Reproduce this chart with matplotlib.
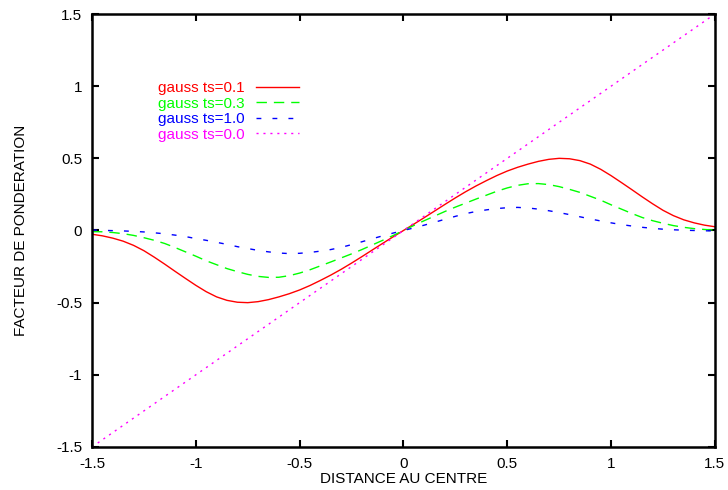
import matplotlib
matplotlib.use('Agg')
import matplotlib.pyplot as plt
import matplotlib.ticker as mticker

plt.rcParams['font.family'] = ['Liberation Sans', 'DejaVu Sans']
plt.rcParams['axes.unicode_minus'] = False

# distances, every 0.05
X = [-1.5, -1.45, -1.4, -1.35, -1.3, -1.25, -1.2, -1.15, -1.1, -1.05,
     -1.0, -0.95, -0.9, -0.85, -0.8, -0.75, -0.7, -0.65, -0.6, -0.55,
     -0.5, -0.45, -0.4, -0.35, -0.3, -0.25, -0.2, -0.15, -0.1, -0.05,
     0.0, 0.05, 0.1, 0.15, 0.2, 0.25, 0.3, 0.35, 0.4, 0.45,
     0.5, 0.55, 0.6, 0.65, 0.7, 0.75, 0.8, 0.85, 0.9, 0.95,
     1.0, 1.05, 1.1, 1.15, 1.2, 1.25, 1.3, 1.35, 1.4, 1.45, 1.5]

TS01 = [-0.026, -0.037, -0.053, -0.074, -0.103, -0.14, -0.185, -0.233,
        -0.283, -0.332, -0.38, -0.424, -0.46, -0.484, -0.497, -0.50,
        -0.493, -0.479, -0.46, -0.438, -0.412, -0.381, -0.346, -0.309,
        -0.269, -0.226, -0.181, -0.135, -0.089, -0.044,
        0.0, 0.044, 0.089, 0.135, 0.181, 0.226, 0.269, 0.309, 0.346,
        0.381, 0.412, 0.438, 0.46, 0.479, 0.493, 0.50, 0.497, 0.484,
        0.46, 0.424, 0.38, 0.332, 0.283, 0.233, 0.185, 0.14, 0.103,
        0.074, 0.053, 0.037, 0.026]
TS03 = [-0.008, -0.009, -0.014, -0.022, -0.034, -0.05, -0.068, -0.09,
        -0.118, -0.148, -0.178, -0.21, -0.237, -0.264, -0.285, -0.304,
        -0.318, -0.325, -0.324, -0.313, -0.295, -0.272, -0.245, -0.218,
        -0.19, -0.162, -0.132, -0.1, -0.068, -0.035,
        0.0, 0.035, 0.068, 0.1, 0.132, 0.162, 0.19, 0.218, 0.245, 0.272,
        0.295, 0.313, 0.324, 0.325, 0.318, 0.304, 0.285, 0.264, 0.237,
        0.21, 0.178, 0.148, 0.118, 0.09, 0.068, 0.05, 0.034, 0.022, 0.013,
        0.007, 0.003]
TS10 = [0.003, 0.001, -0.001, -0.003, -0.006, -0.01, -0.016, -0.023,
        -0.032, -0.042, -0.056, -0.068, -0.082, -0.096, -0.112, -0.125,
        -0.138, -0.148, -0.156, -0.16, -0.158, -0.152, -0.143, -0.132,
        -0.117, -0.098, -0.078, -0.057, -0.037, -0.018,
        0.0, 0.018, 0.037, 0.057, 0.078, 0.098, 0.117, 0.132, 0.143,
        0.152, 0.158, 0.16, 0.156, 0.148, 0.137, 0.124, 0.11, 0.095,
        0.08, 0.066, 0.053, 0.041, 0.031, 0.022, 0.015, 0.009, 0.005,
        0.002, 0.0, -0.002, -0.003]
DIAG_X = [-1.5, 1.5]
DIAG_Y = [-1.5, 1.5]

fig = plt.figure(figsize=(7.28, 4.9), dpi=100)
ax = fig.add_axes([0.1264, 0.0878, 0.8556, 0.8836])

ax.plot(X, TS01, color='#ff0000', lw=1.0, label='gauss ts=0.1')
ax.plot(X, TS03, color='#00ff00', lw=1.0, dashes=(7.5, 5),
        label='gauss ts=0.3')
ax.plot(X, TS10, color='#0000ff', lw=1.0, dashes=(3.5, 8),
        label='gauss ts=1.0')
ax.plot(DIAG_X, DIAG_Y, color='#ff00ff', lw=1.0, dashes=(1.5, 3.5),
        label='gauss ts=0.0')

ax.set_xlim(-1.5, 1.5)
ax.set_ylim(-1.5, 1.5)
ax.xaxis.set_major_locator(mticker.MultipleLocator(0.5))
ax.yaxis.set_major_locator(mticker.MultipleLocator(0.5))
ax.xaxis.set_major_formatter(mticker.FormatStrFormatter('%g'))
ax.yaxis.set_major_formatter(mticker.FormatStrFormatter('%g'))
ax.tick_params(direction='in', length=5, width=1.5, top=True, right=True,
               labelsize=11, pad=7)
for sp in ax.spines.values():
    sp.set_linewidth(1.8)

ax.set_xlabel('DISTANCE AU CENTRE', fontsize=11, labelpad=1)
ax.set_ylabel('FACTEUR DE PONDERATION', fontsize=11, labelpad=20)

leg = ax.legend(loc='upper left', bbox_to_anchor=(0.106, 0.845),
                frameon=False, markerfirst=False, fontsize=11,
                handlelength=2.8, handletextpad=0.75, labelspacing=0.1,
                labelcolor='linecolor', borderaxespad=0, borderpad=0)

fig.savefig('out.png', dpi=100)
